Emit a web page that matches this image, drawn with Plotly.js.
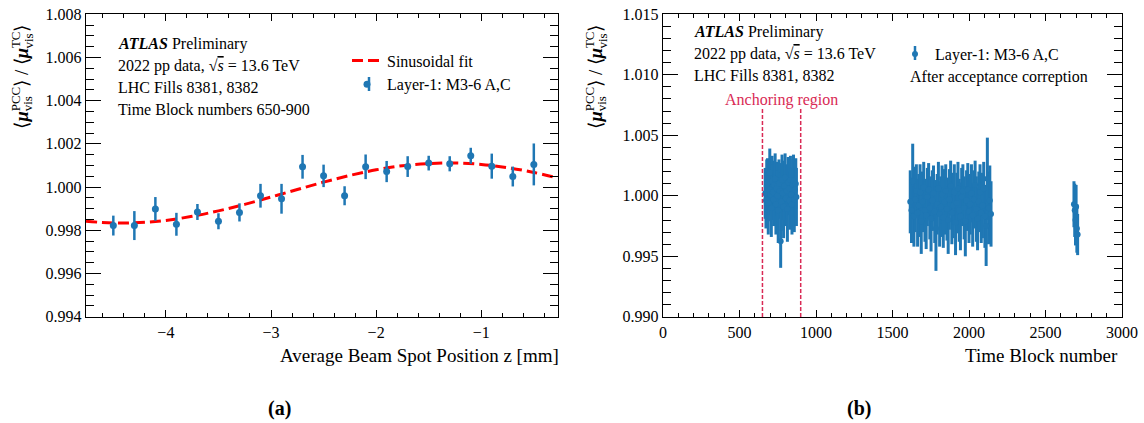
<!DOCTYPE html>
<html>
<head>
<meta charset="utf-8">
<script src="https://cdn.plot.ly/plotly-3.0.1.min.js"></script>
<style>
  html, body { margin: 0; padding: 0; background: #fff; }
  #chart { width: 1144px; height: 423px; }
</style>
</head>
<body>
<div id="chart"></div>
<script>
// ---- (a) ratio versus average beam-spot z position ----
const beamSpotZ = [-4.5, -4.3, -4.1, -3.9, -3.7, -3.5, -3.3, -3.1, -2.9, -2.7, -2.5,
                   -2.3, -2.1, -1.9, -1.7, -1.5, -1.3, -1.1, -0.9, -0.7, -0.5];
const ratioVsZ = [0.99822, 0.99822, 0.99899, 0.99828, 0.99885, 0.99842, 0.99883, 0.99960,
                  0.99946, 1.00094, 1.00052, 0.99960, 1.00094, 1.00072, 1.00095, 1.00111,
                  1.00108, 1.00145, 1.00097, 1.00049, 1.00105];
const ratioVsZErr = [0.00046, 0.00067, 0.00055, 0.00053, 0.00037, 0.00037, 0.00042, 0.00055,
                     0.00069, 0.00055, 0.00052, 0.00044, 0.00057, 0.00049, 0.00048, 0.00034,
                     0.00035, 0.00037, 0.00058, 0.00046, 0.00097];

// sinusoidal fit curve, sampled
const fitZ = [-4.76, -4.5, -4.25, -4.0, -3.75, -3.5, -3.25, -3.0, -2.75, -2.5, -2.25,
              -2.0, -1.75, -1.5, -1.25, -1.0, -0.75, -0.5, -0.27];
const fitRatio = [0.99842, 0.99834, 0.99836, 0.99846, 0.99865, 0.99890, 0.99920, 0.99954,
                  0.99989, 1.00023, 1.00054, 1.00080, 1.00099, 1.00109, 1.00112, 1.00105,
                  1.00090, 1.00068, 1.00042];

// ---- (b) ratio versus time block number ----
const tbFill1 = [668, 673, 678, 683, 688, 693, 698, 703, 708, 713, 718, 723, 728, 733,
                 738, 743, 748, 753, 758, 763, 769, 773, 778, 783, 788, 793, 798, 803,
                 808, 813, 818, 823, 828, 833, 838, 843, 848, 853, 858, 863, 868, 872];
const ratioFill1 = [1.0002, 0.9996, 1.0008, 1.0011, 0.9994, 1.0005, 1.0019, 1.0001, 0.9990,
                    1.0012, 1.0003, 0.9997, 1.0009, 1.0014, 0.9993, 1.0006, 1.0000, 0.9988,
                    1.0010, 1.0004, 0.99625, 0.9995, 1.0013, 1.0002, 0.9991, 1.0008, 1.0015,
                    0.9998, 1.0004, 0.9989, 1.0011, 1.0006, 0.9996, 1.0013, 1.0001, 0.9993,
                    1.0009, 1.0012, 0.9997, 1.0005, 1.0010, 0.9999];
const errFill1 = [0.0021, 0.0023, 0.0022, 0.0020, 0.0026, 0.0021, 0.0020, 0.0022, 0.0024,
                  0.0021, 0.0023, 0.0022, 0.0020, 0.0021, 0.0025, 0.0022, 0.0021, 0.0027,
                  0.0020, 0.0023, 0.0022, 0.0024, 0.0021, 0.0022, 0.0026, 0.0021, 0.0020,
                  0.0023, 0.0022, 0.0027, 0.0021, 0.0022, 0.0024, 0.0020, 0.0022, 0.0025,
                  0.0021, 0.0022, 0.0027, 0.0023, 0.0021, 0.0024];

const tbFill2 = [1616, 1624, 1632, 1640, 1648, 1656, 1664, 1672, 1680, 1688, 1696, 1704,
                 1712, 1720, 1728, 1736, 1744, 1752, 1760, 1768, 1776, 1784, 1792, 1800,
                 1808, 1816, 1824, 1832, 1840, 1848, 1856, 1864, 1872, 1880, 1888, 1896,
                 1904, 1912, 1920, 1928, 1936, 1944, 1952, 1960, 1968, 1976, 1984, 1992,
                 2000, 2008, 2016, 2024, 2032, 2040, 2048, 2056, 2064, 2072, 2080, 2088,
                 2096, 2104, 2112, 2120, 2128, 2136, 2144];
const ratioFill2 = [0.9995, 0.9988, 1.0012, 0.9983, 0.9997, 1.0004, 0.9986, 0.9992, 1.0003,
                    0.9979, 0.9995, 1.0007, 0.9988, 0.9984, 0.9999, 1.0005, 0.9990, 0.9981,
                    0.9996, 1.0002, 0.9987, 0.9973, 0.9993, 1.0006, 0.9985, 0.9991, 1.0001,
                    0.9982, 0.9995, 1.0004, 0.9989, 0.9980, 0.9997, 1.0008, 0.9986, 0.9992,
                    1.0003, 0.9978, 0.9994, 1.0006, 0.9988, 0.9983, 0.9999, 1.0004, 0.9990,
                    0.9979, 0.9996, 1.0005, 0.9987, 0.9993, 1.0002, 0.9984, 0.9997, 1.0009,
                    0.9989, 0.9981, 0.9995, 1.0003, 0.9986, 0.9992, 1.0006, 0.9983, 0.9975,
                    1.0014, 0.9990, 0.9996, 0.9985];
const errFill2 = [0.0026, 0.0027, 0.0031, 0.0025, 0.0027, 0.0022, 0.0028, 0.0026, 0.0023,
                  0.0027, 0.0025, 0.0021, 0.0026, 0.0028, 0.0024, 0.0022, 0.0026, 0.0027,
                  0.0025, 0.0023, 0.0026, 0.0035, 0.0025, 0.0022, 0.0027, 0.0025, 0.0024,
                  0.0025, 0.0027, 0.0022, 0.0026, 0.0028, 0.0025, 0.0021, 0.0026, 0.0027,
                  0.0023, 0.0027, 0.0025, 0.0022, 0.0026, 0.0028, 0.0024, 0.0022, 0.0026,
                  0.0029, 0.0025, 0.0022, 0.0026, 0.0025, 0.0024, 0.0026, 0.0024, 0.0020,
                  0.0027, 0.0026, 0.0025, 0.0023, 0.0025, 0.0027, 0.0022, 0.0026, 0.0033,
                  0.0034, 0.0030, 0.0029, 0.0027];

const tbFill3 = [2686, 2691, 2696, 2700, 2705, 2710];
const ratioFill3 = [0.9993, 0.9988, 0.9980, 0.9991, 0.9973, 0.9968];
const errFill3 = [0.0019, 0.0022, 0.0021, 0.0018, 0.0020, 0.0017];

const anchorBlocks = [650, 900];

const W = 1144, H = 423;
const px = v => v / W;
const py = v => 1 - v / H;

const SERIF = 'Liberation Serif, Times New Roman, serif';
const BLUE = '#1f77b4';
const CRIMSON = '#d92a55';

const tbAll = tbFill1.concat(tbFill2, tbFill3);
const ratioAll = ratioFill1.concat(ratioFill2, ratioFill3);
const errAll = errFill1.concat(errFill2, errFill3);

const traces = [
  {
    x: fitZ, y: fitRatio, xaxis: 'x', yaxis: 'y',
    type: 'scatter', mode: 'lines', name: 'Sinusoidal fit',
    line: { color: '#ff0000', width: 3, dash: '11px,5px', shape: 'spline' },
    legend: 'legend', legendrank: 1, hoverinfo: 'skip'
  },
  {
    x: beamSpotZ, y: ratioVsZ, xaxis: 'x', yaxis: 'y',
    type: 'scatter', mode: 'markers', name: 'Layer-1: M3-6 A,C',
    marker: { color: BLUE, size: 7 },
    error_y: { type: 'data', array: ratioVsZErr, visible: true, width: 0, thickness: 2.5, color: BLUE },
    legend: 'legend', legendrank: 2
  },
  {
    x: tbAll, y: ratioAll, xaxis: 'x2', yaxis: 'y2',
    type: 'scatter', mode: 'markers', name: 'Layer-1: M3-6 A,C',
    marker: { color: BLUE, size: 6 },
    error_y: { type: 'data', array: errAll, visible: true, width: 0, thickness: 3, color: BLUE },
    legend: 'legend2'
  }
];

function axisStyle(extra) {
  return Object.assign({
    showline: true, linecolor: 'black', linewidth: 1.3, mirror: 'ticks',
    ticks: 'inside', tickwidth: 1, tickcolor: 'black',
    showgrid: false, zeroline: false, fixedrange: true,
    tickfont: { family: SERIF, size: 16, color: 'black' }
  }, extra);
}

const yDomain = [(H - 317) / H, (H - 14) / H];

const layout = {
  width: W, height: H,
  margin: { l: 0, r: 0, t: 0, b: 0 },
  paper_bgcolor: 'white', plot_bgcolor: 'white',
  showlegend: true,
  font: { family: SERIF, size: 16, color: 'black' },
  xaxis: axisStyle({
    domain: [px(86), px(558)], anchor: 'y',
    range: [-4.76, -0.27], dtick: 1, tick0: 0, ticklen: 7,
    minor: { ticks: 'inside', dtick: 0.2, tick0: 0, ticklen: 4, tickcolor: 'black', tickwidth: 1 }
  }),
  yaxis: axisStyle({
    domain: yDomain, anchor: 'x',
    range: [0.99399, 1.00801], dtick: 0.002, tick0: 1.0, ticklen: 15, tickformat: '.3f',
    minor: { ticks: 'inside', dtick: 0.0005, tick0: 1.0, ticklen: 8, tickcolor: 'black', tickwidth: 1 }
  }),
  xaxis2: axisStyle({
    domain: [px(663), px(1122)], anchor: 'y2',
    range: [0, 3000], dtick: 500, tick0: 0, ticklen: 7,
    minor: { ticks: 'inside', dtick: 100, tick0: 0, ticklen: 4, tickcolor: 'black', tickwidth: 1 }
  }),
  yaxis2: axisStyle({
    domain: yDomain, anchor: 'x2',
    range: [0.98999, 1.01501], dtick: 0.005, tick0: 1.0, ticklen: 15, tickformat: '.3f',
    minor: { ticks: 'inside', dtick: 0.001, tick0: 1.0, ticklen: 8, tickcolor: 'black', tickwidth: 1 }
  }),
  legend: {
    x: px(347), y: py(43.5), xanchor: 'left', yanchor: 'top',
    bgcolor: 'rgba(0,0,0,0)', borderwidth: 0,
    font: { family: SERIF, size: 16, color: 'black' }, tracegroupgap: 0
  },
  legend2: {
    x: px(895), y: py(37), xanchor: 'left', yanchor: 'top',
    bgcolor: 'rgba(0,0,0,0)', borderwidth: 0,
    font: { family: SERIF, size: 16, color: 'black' }
  },
  shapes: anchorBlocks.map(tb => ({
    type: 'line', xref: 'x2', yref: 'y2', x0: tb, x1: tb, y0: 0.990, y1: 1.0072,
    line: { color: CRIMSON, width: 1.5, dash: '4px,2px' }
  })),
  annotations: []
};

// error-bar strokes behind the legend markers
[[369, 77, 91], [915, 46, 60]].forEach(([x, y0, y1]) => {
  layout.shapes.push({
    type: 'line', xref: 'paper', yref: 'paper', x0: px(x), x1: px(x), y0: py(y0), y1: py(y1),
    line: { color: BLUE, width: 2.5 }
  });
});

function note(text, x, y, opts) {
  layout.annotations.push(Object.assign({
    text: text, xref: 'paper', yref: 'paper', x: px(x), y: py(y),
    xanchor: 'left', yanchor: 'middle', showarrow: false,
    font: { family: SERIF, size: 16, color: 'black' }
  }, opts || {}));
}

const sqrtS = '\u221A<span style="text-decoration:overline"><i>s</i></span>';

// panel (a) labels
note('<b><i>ATLAS</i></b> Preliminary', 116, 44);
note('2022 pp data, ' + sqrtS + ' = 13.6 TeV', 116, 66);
note('LHC Fills 8381, 8382', 116, 88);
note('Time Block numbers 650-900', 116, 109);

// panel (b) labels
note('<b><i>ATLAS</i></b> Preliminary', 692, 32);
note('2022 pp data, ' + sqrtS + ' = 13.6 TeV', 692, 54);
note('LHC Fills 8381, 8382', 692, 75);
note('After acceptance correption', 908, 77);
layout.annotations.push({
  text: 'Anchoring region', xref: 'x2', yref: 'y2',
  x: (anchorBlocks[0] + anchorBlocks[1]) / 2, y: 1.00795,
  xanchor: 'center', yanchor: 'middle', showarrow: false,
  font: { family: SERIF, size: 16, color: CRIMSON }
});

// axis titles
note('Average Beam Spot Position z [mm]', 561, 355, { xanchor: 'right', font: { family: SERIF, size: 19, color: 'black' } });
note('Time Block number', 1120, 355, { xanchor: 'right', font: { family: SERIF, size: 19, color: 'black' } });

// panel tags
note('<b>(a)</b>', 279, 408, { xanchor: 'center', font: { family: SERIF, size: 20, color: 'black' } });
note('<b>(b)</b>', 859, 408, { xanchor: 'center', font: { family: SERIF, size: 20, color: 'black' } });

// vertical ratio titles: superscripts and subscripts stacked by overlaying three
// annotations that share the same start point and line box
const hide = s => '<span style="color:rgba(0,0,0,0)">' + s + '</span>';
const mu = '<b><i>\u03BC</i></b>';
function ratioTitle(cx, bottomY) {
  const parts = [
    '\u27E8' + mu + '<sup>PCC</sup>\u27E9 / \u27E8' + mu + '<sup>TC</sup>\u27E9' + '<sub>' + hide('vis') + '</sub>',
    hide('\u27E8' + mu) + '<sub>vis</sub>' + '<sup>' + hide('PCC') + '</sup>',
    hide('\u27E8' + mu) + '<sup>' + hide('PCC') + '</sup>' + hide('\u27E9 / \u27E8' + mu) + '<sub>vis</sub>'
  ];
  parts.forEach(t => {
    layout.annotations.push({
      text: t, xref: 'paper', yref: 'paper', x: px(cx), y: py(bottomY),
      xanchor: 'center', yanchor: 'bottom', textangle: -90, showarrow: false,
      font: { family: SERIF, size: 18.5, color: 'black' }
    });
  });
}
ratioTitle(22, 131);
ratioTitle(596, 131);

Plotly.newPlot('chart', traces, layout, { displayModeBar: false, staticPlot: true });
</script>
</body>
</html>
